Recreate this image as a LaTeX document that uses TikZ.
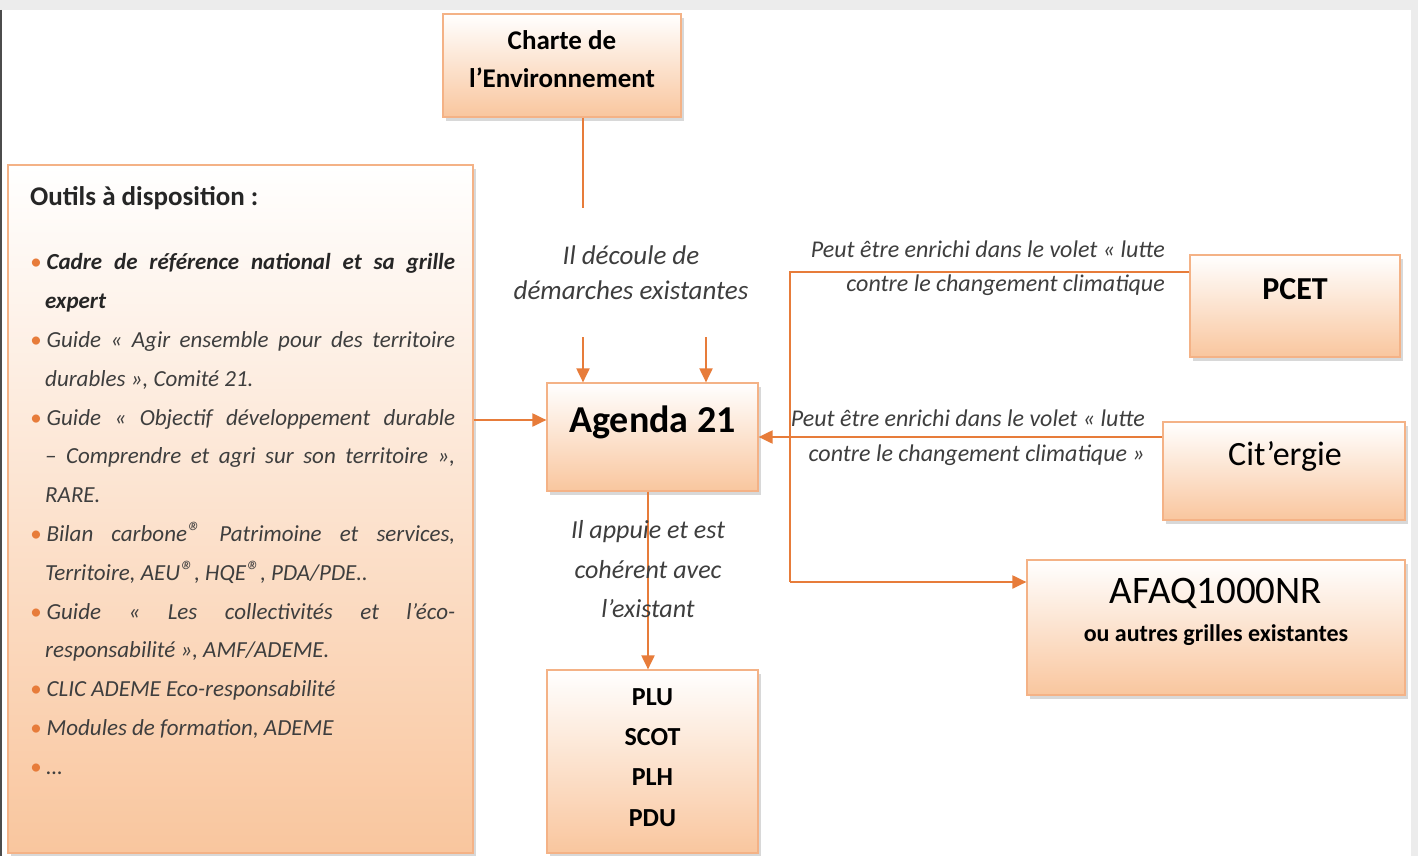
\documentclass[tikz,border=0pt]{standalone}
\usepackage{fontspec}
\setmainfont{Carlito}
\usetikzlibrary{arrows.meta,shadows,positioning}

\definecolor{linkor}{RGB}{231,124,58}
\definecolor{boxedge}{RGB}{244,178,134}
\definecolor{boxpeach}{RGB}{249,198,158}
\definecolor{notegray}{RGB}{62,62,62}
\definecolor{framegray}{RGB}{236,236,236}

\newcommand{\fs}[2]{\fontsize{#1}{#2}\selectfont}
\newcommand{\regmark}{{\fs{28}{28}®}}

\begin{document}
\begin{tikzpicture}[x=1pt,y=-1pt,
  box/.style={draw=boxedge,line width=1.2pt,top color=white,bottom color=boxpeach,
    drop shadow={shadow xshift=3pt,shadow yshift=-4pt,fill=black!30},inner sep=0pt},
  boxtext/.style={inner sep=0pt,align=center,text=black},
  note/.style={inner sep=0pt,text=notegray},
  link/.style={draw=linkor,line width=2pt},
  flow/.style={link,-{Triangle[length=14pt,width=13pt]}}]

\useasboundingbox (0,0) rectangle (1418,856);
\fill[framegray] (0,0) rectangle (1418,856);
\fill[white] (2,10) rectangle (1411,856);
\draw[black!70,line width=1.5pt] (1,10) -- (1,856);

% boxes
\node[box,minimum width=238pt,minimum height=103pt] (charte) at (562,65.5) {};
\node[box,minimum width=465pt,minimum height=688pt] (outils) at (240.5,509) {};
\node[box,minimum width=211pt,minimum height=108pt] (agenda) at (652.5,437) {};
\node[box,minimum width=211pt,minimum height=183pt] (plu) at (652.5,761.5) {};
\node[box,minimum width=210pt,minimum height=102pt] (pcet) at (1295,306) {};
\node[box,minimum width=242pt,minimum height=98pt] (citergie) at (1284,471) {};
\node[box,minimum width=378pt,minimum height=135pt] (afaq) at (1216,627.5) {};

% connectors
\coordinate (chartefoot) at (583,208);
\coordinate (leftin) at (583,337);
\coordinate (rightin) at (706,337);
\coordinate (toolrow) at (510,420);
\coordinate (downcol) at (648,580);
\coordinate (bustop) at (790,272);
\coordinate (busfoot) at (790,582);

\draw[link] (charte.south -| chartefoot) -- (chartefoot);
\draw[flow] (leftin) -- (agenda.north -| leftin);
\draw[flow] (rightin) -- (agenda.north -| rightin);
\draw[flow] (outils.east |- toolrow) -- (agenda.west |- toolrow);
\draw[flow] (agenda.south -| downcol) -- (plu.north -| downcol);
\draw[link] (pcet.west |- bustop) -- (bustop) -- (busfoot);
\draw[flow] (busfoot) -- (afaq.west |- busfoot);
\draw[flow] (citergie.west |- agenda.east) -- (agenda.east);

% box texts
\node[boxtext,font=\bfseries\fs{27}{38}] (chartetxt) at (562,59) {Charte de\\l’Environnement};
\node[boxtext,font=\bfseries\fs{38}{44}] (agendatxt) at (652.5,422) {Agenda 21};
\node[boxtext,font=\bfseries\fs{26}{40.3}] (plutxt) at (652.5,757.5) {PLU\\SCOT\\PLH\\PDU};
\node[boxtext,font=\bfseries\fs{32}{38}] (pcettxt) at (1295,289) {PCET};
\node[boxtext,font=\fs{34}{40}] (citergietxt) at (1285,456) {Cit’ergie};
\node[boxtext,font=\fs{39}{44}] (afaqtxt) at (1216,593) {AFAQ1000NR};
\node[boxtext,font=\bfseries\fs{24}{30}] (grillestxt) at (1216,635) {ou autres grilles existantes};

% notes on the links
\node[note,anchor=east,align=right,font=\itshape\fs{24}{34}] (pcetnote) at (1165,268)
  {Peut être enrichi dans le volet «~lutte\\contre le changement climatique};
\node[note,anchor=east,align=right,font=\itshape\fs{24}{35}] (citnote) at (1145,437.5)
  {Peut être enrichi dans le volet «~lutte\\contre le changement climatique~»};
\node[note,align=center,font=\itshape\fs{27}{35}] (decoule) at (631,272.5)
  {Il découle de\\démarches existantes};
\node[note,align=center,font=\itshape\fs{26}{39.5}] (appuie) at (648,569.5)
  {Il appuie et est\\cohérent avec\\l’existant};

% tools list
\node[note,anchor=north west,text width=425pt,align=justify] (outilstxt) at (30,186) {%
  {\bfseries\fs{27}{38}\color{black!85}Outils à disposition~:}\par
  \vspace{26pt}
  {\itshape\fs{23}{38.8}
  \begin{list}{\textcolor{linkor}{\textbullet}}{\setlength{\leftmargin}{15pt}%
    \setlength{\labelwidth}{10pt}\setlength{\labelsep}{5pt}\setlength{\itemsep}{0pt}%
    \setlength{\parsep}{0pt}\setlength{\topsep}{0pt}\setlength{\partopsep}{0pt}}
  \item {\bfseries\color{black!85}Cadre de référence national et sa grille\linebreak expert}
  \item Guide «~Agir ensemble pour des territoire\linebreak durables~», Comité 21.
  \item Guide «~Objectif développement durable\linebreak – Comprendre et agri sur son territoire~»,\linebreak RARE.
  \item Bilan carbone\regmark{} Patrimoine et services,\linebreak Territoire, AEU\regmark, HQE\regmark, PDA/PDE..
  \item Guide «~Les collectivités et l’éco-\linebreak responsabilité~», AMF/ADEME.
  \item CLIC ADEME Eco-responsabilité
  \item Modules de formation, ADEME
  \item …
  \end{list}}};

\end{tikzpicture}
\end{document}
